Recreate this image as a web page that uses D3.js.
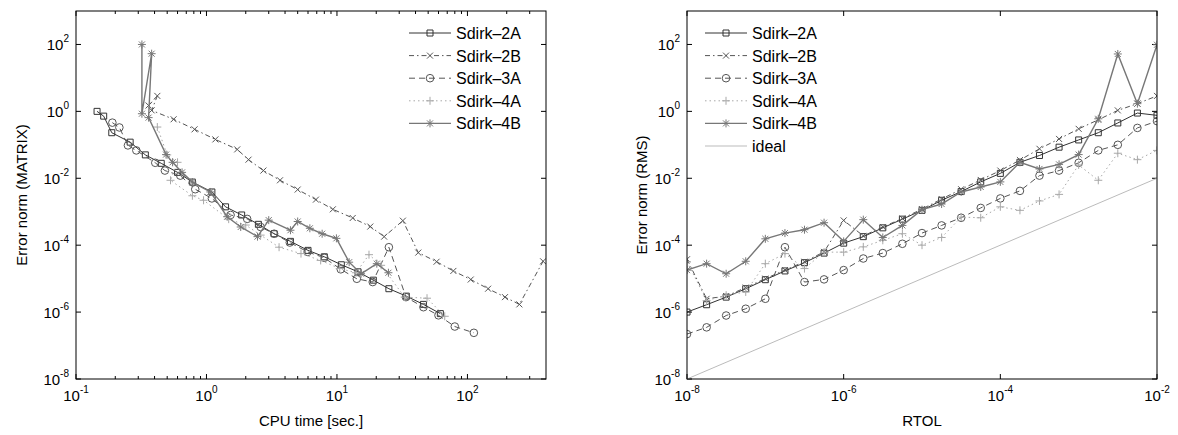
<!DOCTYPE html>
<html>
<head>
<meta charset="utf-8">
<script src="https://cdn.jsdelivr.net/npm/d3@7"></script>
<style>
  body { margin: 0; background: #fff; }
  text { font-family: "Liberation Sans", Arial, Helvetica, sans-serif; fill: #000; }
</style>
</head>
<body>
<svg id="chart" width="1178" height="435"></svg>
<script>
// ---- left panel: error vs CPU time ----
var cpu2A = [0.145, 0.163, 0.188, 0.26, 0.34, 0.45, 0.6, 0.78, 1.1, 1.4, 1.86, 2.5, 3.3, 4.4, 6.0, 8.0, 10.8, 14.5, 19, 25, 34, 46, 62];
var err2A = [1.0, 0.72, 0.23, 0.12, 0.05, 0.028, 0.015, 0.0077, 0.0039, 0.0014, 8e-4, 4.2e-4, 2.2e-4, 1.3e-4, 7e-5, 4.5e-5, 2.6e-5, 1.6e-5, 9e-6, 5e-6, 3e-6, 1.7e-6, 9e-7];

var cpu2B = [0.36, 0.42, 0.38, 0.56, 0.81, 1.17, 1.72, 2.1, 2.73, 3.66, 5.0, 6.9, 9.3, 13.2, 18, 23, 32, 42, 58, 78, 106, 144, 194, 250, 380];
var err2B = [1.5, 2.9, 1.07, 0.58, 0.29, 0.145, 0.073, 0.036, 0.017, 0.0087, 0.0046, 0.0023, 0.00118, 6.5e-4, 3.6e-4, 1.8e-4, 5.4e-4, 6e-5, 3.2e-5, 1.7e-5, 9.4e-6, 5e-6, 2.8e-6, 1.7e-6, 3.3e-5];

var cpu3A = [0.19, 0.215, 0.25, 0.29, 0.405, 0.48, 0.63, 0.82, 1.1, 1.53, 2.05, 2.6, 3.3, 4.35, 5.96, 8.0, 10.7, 14.2, 18.8, 25, 33.8, 46, 60, 80, 112];
var err3A = [0.46, 0.33, 0.096, 0.068, 0.029, 0.017, 0.012, 0.0047, 0.0025, 8e-4, 6.1e-4, 3.5e-4, 2.2e-4, 1.2e-4, 6.3e-5, 4.2e-5, 1.9e-5, 9.9e-6, 7.9e-6, 8.7e-5, 2.8e-6, 1.4e-6, 8e-7, 3.7e-7, 2.4e-7];

var cpu4A = [0.42, 0.5, 0.6, 0.53, 0.78, 0.95, 1.48, 2.0, 2.6, 3.6, 5.3, 7.5, 10.5, 14, 17.6, 21.8, 33, 49, 67];
var err4A = [0.34, 0.05, 0.03, 0.0087, 0.003, 0.0022, 6e-4, 4e-4, 2e-4, 8.7e-5, 5.6e-5, 3.5e-5, 2e-5, 1.5e-5, 5.2e-5, 2.5e-5, 2.8e-6, 2.6e-6, 7.5e-7];

var cpu4B = [0.32, 0.32, 0.38, 0.36, 0.49, 0.55, 0.65, 0.78, 1.07, 1.44, 1.83, 2.46, 3.0, 4.4, 5.0, 6.2, 7.7, 9.9, 12.4, 15.3, 20.2, 24.8];
var err4B = [100, 0.85, 53, 0.65, 0.051, 0.03, 0.015, 0.0077, 0.0039, 7.1e-4, 3.5e-4, 1.8e-4, 5.6e-4, 2.8e-4, 5.1e-4, 3.2e-4, 2.2e-4, 1.6e-4, 3.1e-5, 1.4e-5, 2.8e-5, 1.5e-5];

// ---- right panel: error vs RTOL ----
var rtol = [1e-8, 1.78e-8, 3.16e-8, 5.62e-8, 1e-7, 1.78e-7, 3.16e-7, 5.62e-7, 1e-6, 1.78e-6, 3.16e-6, 5.62e-6,
            1e-5, 1.78e-5, 3.16e-5, 5.62e-5, 1e-4, 1.78e-4, 3.16e-4, 5.62e-4, 1e-3, 1.78e-3, 3.16e-3, 5.62e-3, 1e-2];
var rms2A = [1.0e-6, 1.66e-6, 2.8e-6, 5.0e-6, 9.3e-6, 1.7e-5, 3.0e-5, 5.8e-5, 1.15e-4, 1.8e-4, 3.3e-4, 6.0e-4,
             1.1e-3, 2.2e-3, 4.0e-3, 7.8e-3, 1.4e-2, 3.0e-2, 4.8e-2, 8.5e-2, 0.14, 0.23, 0.45, 0.89, 0.76];
var rms2B = [3.8e-5, 2.5e-6, 3.0e-6, 5.4e-6, 1.0e-5, 1.8e-5, 3.2e-5, 6.3e-5, 5.5e-4, 1.9e-4, 3.5e-4, 6.3e-4,
             1.2e-3, 2.4e-3, 4.7e-3, 8.9e-3, 1.7e-2, 3.5e-2, 7.6e-2, 0.15, 0.30, 0.56, 1.07, 1.7, 2.9];
var rms3A = [2.2e-7, 3.5e-7, 7.9e-7, 1.26e-6, 2.5e-6, 8.7e-5, 7.9e-6, 9.5e-6, 1.8e-5, 4.0e-5, 5.8e-5, 1.1e-4,
             2.3e-4, 3.9e-4, 6.6e-4, 1.3e-3, 2.5e-3, 4.2e-3, 1.2e-2, 1.7e-2, 2.9e-2, 6.8e-2, 0.1, 0.32, 0.51];
var rms4A = [3.2e-5, 2.2e-6, 3.2e-6, 4.0e-6, 2.8e-5, 5.6e-5, 2.0e-5, 6.2e-5, 6.2e-5, 8.9e-5, 1.4e-4, 2.2e-4,
             1.0e-4, 1.7e-4, 6.9e-4, 6.6e-4, 1.4e-3, 1.1e-3, 2.1e-3, 3.3e-3, 2.5e-2, 8.7e-3, 5.6e-2, 3.6e-2, 6.8e-2];
var rms4B = [1.8e-5, 2.8e-5, 1.4e-5, 3.3e-5, 1.55e-4, 2.3e-4, 2.9e-4, 4.7e-4, 1.3e-4, 5.8e-4, 1.7e-4, 3.9e-4,
             1.15e-3, 1.7e-3, 3.9e-3, 5.5e-3, 7.8e-3, 3.0e-2, 1.9e-2, 2.6e-2, 5.1e-2, 0.6, 52, 1.7, 98];
var idealX = [1e-8, 1e-2];
var idealY = [1e-8, 1e-2];

var names = ["Sdirk\u20132A", "Sdirk\u20132B", "Sdirk\u20133A", "Sdirk\u20134A", "Sdirk\u20134B"];
var yMajor = [1e-8, 1e-6, 1e-4, 1e-2, 1, 1e2];
var cpuMajor = [0.1, 1, 10, 100];
var rtolMajor = [1e-8, 1e-6, 1e-4, 1e-2];

// line looks (MATLAB grey-scale style)
var looks = [
    { color: "#333", dash: null, width: 1, marker: "square" },
    { color: "#555", dash: "5,3,1.5,3", width: 1, marker: "x" },
    { color: "#555", dash: "6,4", width: 1, marker: "circle" },
    { color: "#a8a8a8", dash: "1.5,3", width: 1, marker: "plus" },
    { color: "#777", dash: null, width: 1.4, marker: "star" }
];
var idealLook = { color: "#bbb", dash: null, width: 1, marker: null };

var svg = d3.select("#chart");

function markerPath(type, x, y) {
    var p = d3.path();
    if (type == "square") { p.rect(x - 3, y - 3, 6, 6); }
    else if (type == "circle") { p.moveTo(x + 3.8, y); p.arc(x, y, 3.8, 0, 2 * Math.PI); }
    else if (type == "x") { p.moveTo(x - 3, y - 3); p.lineTo(x + 3, y + 3); p.moveTo(x - 3, y + 3); p.lineTo(x + 3, y - 3); }
    else if (type == "plus") { p.moveTo(x - 4, y); p.lineTo(x + 4, y); p.moveTo(x, y - 4); p.lineTo(x, y + 4); }
    else if (type == "star") {
        p.moveTo(x - 4, y); p.lineTo(x + 4, y); p.moveTo(x, y - 4); p.lineTo(x, y + 4);
        p.moveTo(x - 3, y - 3); p.lineTo(x + 3, y + 3); p.moveTo(x - 3, y + 3); p.lineTo(x + 3, y - 3);
    }
    return p.toString();
}

function expLabel(sel, v) {
    var e = Math.round(Math.log10(v));
    sel.append("tspan").text("10");
    sel.append("tspan").attr("dy", -8).style("font-size", "10px").text(e);
}

function drawPanel(o) {
    var x = d3.scaleLog().domain(o.xDomain).range([o.left, o.right]);
    var y = d3.scaleLog().domain([1e-8, 1e3]).range([379, 11]);
    var g = svg.append("g");

    var clipId = "clip" + o.left;
    g.append("clipPath").attr("id", clipId).append("rect")
        .attr("x", o.left).attr("y", 11).attr("width", o.right - o.left).attr("height", 368);

    // ticks on all four sides, pointing inward
    var tickG = g.append("g").attr("stroke", "#000");
    o.xMajor.forEach(function (v) {
        tickG.append("line").attr("x1", x(v)).attr("x2", x(v)).attr("y1", 379).attr("y2", 374);
        tickG.append("line").attr("x1", x(v)).attr("x2", x(v)).attr("y1", 11).attr("y2", 16);
    });
    o.xMinor.forEach(function (v) {
        tickG.append("line").attr("x1", x(v)).attr("x2", x(v)).attr("y1", 379).attr("y2", 376);
        tickG.append("line").attr("x1", x(v)).attr("x2", x(v)).attr("y1", 11).attr("y2", 14);
    });
    yMajor.forEach(function (v) {
        tickG.append("line").attr("x1", o.left).attr("x2", o.left + 5).attr("y1", y(v)).attr("y2", y(v));
        tickG.append("line").attr("x1", o.right).attr("x2", o.right - 5).attr("y1", y(v)).attr("y2", y(v));
    });

    // tick labels
    o.xMajor.forEach(function (v) {
        g.append("text").attr("x", x(v)).attr("y", 401).attr("text-anchor", "middle")
            .style("font-size", "15px").call(expLabel, v);
    });
    yMajor.forEach(function (v) {
        g.append("text").attr("x", o.left - 7).attr("y", y(v) + 6).attr("text-anchor", "end")
            .style("font-size", "15px").call(expLabel, v);
    });

    g.append("text").attr("x", (o.left + o.right) / 2).attr("y", 426).attr("text-anchor", "middle")
        .style("font-size", "15px").text(o.xTitle);
    g.append("text").attr("transform", "translate(" + o.yTitleX + ",195) rotate(-90)")
        .attr("text-anchor", "middle").style("font-size", "15px").text(o.yTitle);

    // series
    var plot = g.append("g").attr("clip-path", "url(#" + clipId + ")");
    var line = d3.line().x(function (d) { return x(d[0]); }).y(function (d) { return y(d[1]); });
    o.series.forEach(function (s) {
        var pts = s.xs.map(function (v, i) { return [v, s.ys[i]]; });
        plot.append("path").datum(pts).attr("d", line).attr("fill", "none")
            .attr("stroke", s.look.color).attr("stroke-width", s.look.width)
            .attr("stroke-dasharray", s.look.dash);
        if (s.look.marker) {
            plot.append("path")
                .attr("d", pts.map(function (d) { return markerPath(s.look.marker, x(d[0]), y(d[1])); }).join(""))
                .attr("fill", "none").attr("stroke", s.look.color).attr("stroke-width", 1);
        }
    });

    // frame
    g.append("rect").attr("x", o.left).attr("y", 11).attr("width", o.right - o.left).attr("height", 368)
        .attr("fill", "none").attr("stroke", "#000").attr("stroke-width", 1);

    // legend (no box)
    var lg = g.append("g");
    o.series.forEach(function (s, i) {
        var ly = 33 + i * 22.6;
        lg.append("line").attr("x1", o.legX).attr("x2", o.legX + 42).attr("y1", ly).attr("y2", ly)
            .attr("stroke", s.look.color).attr("stroke-width", s.look.width).attr("stroke-dasharray", s.look.dash);
        if (s.look.marker) {
            lg.append("path").attr("d", markerPath(s.look.marker, o.legX + 21, ly))
                .attr("fill", "none").attr("stroke", s.look.color);
        }
        lg.append("text").attr("x", o.legX + 47).attr("y", ly + 6).style("font-size", "16px").text(s.name);
    });
}

var cpuMinor = [];
[-1, 0, 1, 2].forEach(function (d) {
    [2, 3, 4, 5, 6, 7, 8, 9].forEach(function (m) {
        var v = m * Math.pow(10, d);
        if (v < 400) cpuMinor.push(v);
    });
});

drawPanel({
    left: 76, right: 546, xDomain: [0.1, 400],
    xMajor: cpuMajor, xMinor: cpuMinor,
    xTitle: "CPU time [sec.]", yTitle: "Error norm (MATRIX)", yTitleX: 27,
    legX: 409,
    series: [
        { name: names[0], xs: cpu2A, ys: err2A, look: looks[0] },
        { name: names[1], xs: cpu2B, ys: err2B, look: looks[1] },
        { name: names[2], xs: cpu3A, ys: err3A, look: looks[2] },
        { name: names[3], xs: cpu4A, ys: err4A, look: looks[3] },
        { name: names[4], xs: cpu4B, ys: err4B, look: looks[4] }
    ]
});

drawPanel({
    left: 687, right: 1157, xDomain: [1e-8, 1e-2],
    xMajor: rtolMajor, xMinor: [],
    xTitle: "RTOL", yTitle: "Error norm (RMS)", yTitleX: 647,
    legX: 705,
    series: [
        { name: names[0], xs: rtol, ys: rms2A, look: looks[0] },
        { name: names[1], xs: rtol, ys: rms2B, look: looks[1] },
        { name: names[2], xs: rtol, ys: rms3A, look: looks[2] },
        { name: names[3], xs: rtol, ys: rms4A, look: looks[3] },
        { name: names[4], xs: rtol, ys: rms4B, look: looks[4] },
        { name: "ideal", xs: idealX, ys: idealY, look: idealLook }
    ]
});
</script>
</body>
</html>
